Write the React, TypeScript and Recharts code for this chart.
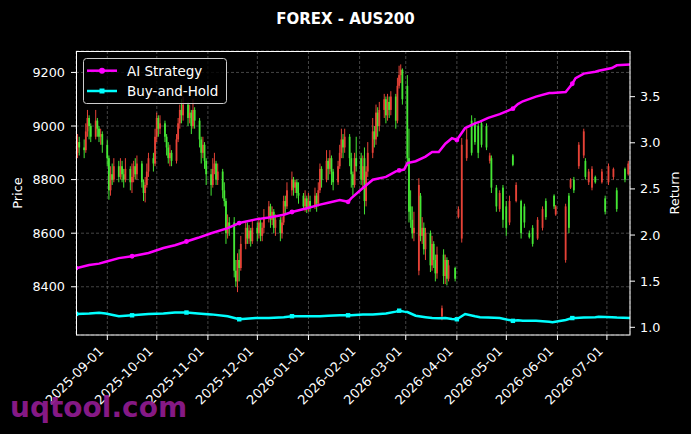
import React from 'react';
import { ComposedChart, Bar, Line, XAxis, YAxis, CartesianGrid } from 'recharts';

document.body.style.margin = '0';
document.body.style.background = '#000';

const FONT = '"DejaVu Sans", sans-serif';
const RED = '#ff4a3d';
const GREEN = '#4cff3a';
const MAGENTA = '#ff00ff';
const CYAN = '#00ffff';

// day 0 = 2025-08-13
const START_UTC = Date.UTC(2025, 7, 13);
const DAY_MS = 86400000;

const tickDates = [
  '2025-09-01', '2025-10-01', '2025-11-01', '2025-12-01', '2026-01-01', '2026-02-01',
  '2026-03-01', '2026-04-01', '2026-05-01', '2026-06-01', '2026-07-01',
];
const priceTicks = [8400, 8600, 8800, 9000, 9200];
const returnTicks = [1.0, 1.5, 2.0, 2.5, 3.0, 3.5];

// [day, open, high, low, close]
const candles: number[][] = [
  [0, 8870, 8960, 8860, 8900], [1, 8900, 8970, 8880, 8940], [2, 8940, 8960, 8890, 8920],
  [5, 8920, 8950, 8880, 8910], [6, 8910, 9010, 8900, 8980], [7, 8980, 9060, 8960, 9030],
  [8, 9030, 9040, 8950, 9000], [9, 9000, 9010, 8940, 8960], [12, 8960, 9060, 8950, 9020],
  [13, 9020, 9030, 8960, 8990], [14, 8990, 9000, 8940, 8960], [15, 8960, 8990, 8930, 8970],
  [16, 8970, 8980, 8900, 8930], [19, 8930, 8950, 8850, 8880], [20, 8880, 8890, 8725, 8760],
  [21, 8760, 8850, 8740, 8820], [22, 8820, 8860, 8780, 8800], [23, 8800, 8880, 8790, 8850],
  [26, 8850, 8870, 8790, 8810], [27, 8810, 8880, 8800, 8850], [28, 8850, 8870, 8790, 8820],
  [29, 8820, 8840, 8770, 8800], [30, 8800, 8880, 8790, 8840], [33, 8840, 8850, 8760, 8790],
  [34, 8790, 8860, 8750, 8810], [35, 8810, 8870, 8790, 8850], [36, 8850, 8880, 8800, 8820],
  [37, 8820, 8890, 8800, 8860], [40, 8860, 8870, 8770, 8790], [41, 8790, 8800, 8720, 8750],
  [42, 8750, 8810, 8715, 8780], [43, 8780, 8860, 8770, 8830], [44, 8830, 8900, 8810, 8880],
  [47, 8880, 8900, 8830, 8860], [48, 8860, 8990, 8850, 8960], [49, 8960, 9050, 8940, 9030],
  [50, 9030, 9040, 8960, 8990], [51, 8990, 9040, 8970, 9010], [54, 9010, 9020, 8940, 8960],
  [55, 8960, 8970, 8890, 8920], [56, 8920, 8940, 8860, 8880], [57, 8880, 8930, 8850, 8900],
  [58, 8900, 8910, 8850, 8870], [61, 8870, 8970, 8860, 8950], [62, 8950, 9030, 8940, 9010],
  [63, 9010, 9080, 8990, 9060], [64, 9060, 9100, 9010, 9040], [65, 9040, 9110, 9020, 9080],
  [68, 9080, 9090, 9000, 9030], [69, 9030, 9080, 9010, 9050], [70, 9050, 9060, 8970, 9000],
  [71, 9000, 9100, 8990, 9060], [72, 9060, 9070, 8990, 9020], [75, 9020, 9030, 8920, 8950],
  [76, 8950, 8960, 8860, 8900], [77, 8900, 8960, 8880, 8930], [78, 8930, 8940, 8840, 8870],
  [79, 8870, 8880, 8780, 8820], [82, 8820, 8840, 8740, 8780], [83, 8780, 8880, 8770, 8840],
  [84, 8840, 8900, 8820, 8860], [85, 8860, 8870, 8780, 8800], [86, 8800, 8860, 8780, 8830],
  [89, 8830, 8840, 8730, 8760], [90, 8760, 8790, 8700, 8720], [91, 8720, 8730, 8560, 8600],
  [92, 8600, 8670, 8580, 8640], [93, 8640, 8660, 8590, 8620], [96, 8640, 8660, 8435, 8460],
  [97, 8460, 8500, 8400, 8420], [98, 8420, 8525, 8380, 8500], [99, 8500, 8540, 8420, 8470],
  [100, 8470, 8590, 8460, 8560], [103, 8560, 8640, 8540, 8620], [104, 8620, 8640, 8560, 8580],
  [105, 8580, 8630, 8560, 8610], [106, 8610, 8620, 8550, 8570], [107, 8570, 8650, 8560, 8620],
  [110, 8620, 8640, 8570, 8600], [111, 8600, 8660, 8580, 8640], [112, 8640, 8650, 8570, 8590],
  [113, 8590, 8640, 8570, 8620], [114, 8620, 8690, 8600, 8660], [117, 8660, 8720, 8640, 8700],
  [118, 8700, 8710, 8620, 8650], [119, 8650, 8700, 8630, 8680], [120, 8680, 8690, 8600, 8620],
  [121, 8620, 8670, 8590, 8650], [124, 8650, 8660, 8570, 8600], [125, 8600, 8660, 8580, 8640],
  [126, 8640, 8740, 8630, 8720], [127, 8720, 8740, 8670, 8700], [128, 8700, 8790, 8690, 8760],
  [131, 8760, 8830, 8740, 8800], [132, 8800, 8810, 8740, 8770], [133, 8770, 8800, 8750, 8790],
  [134, 8790, 8800, 8730, 8750], [135, 8750, 8790, 8710, 8740], [138, 8740, 8750, 8690, 8700],
  [139, 8700, 8760, 8680, 8730], [140, 8730, 8740, 8675, 8690], [141, 8690, 8750, 8680, 8720],
  [142, 8720, 8740, 8680, 8700], [145, 8700, 8770, 8690, 8740], [146, 8740, 8750, 8680, 8710],
  [147, 8710, 8790, 8700, 8760], [148, 8760, 8860, 8750, 8840], [149, 8840, 8850, 8770, 8800],
  [152, 8800, 8910, 8790, 8870], [153, 8870, 8880, 8800, 8840], [154, 8840, 8910, 8820, 8880],
  [155, 8880, 8890, 8780, 8830], [156, 8830, 8840, 8760, 8790], [159, 8790, 8870, 8780, 8850],
  [160, 8850, 8930, 8840, 8900], [161, 8900, 8990, 8880, 8950], [162, 8950, 8970, 8880, 8920],
  [163, 8920, 8990, 8900, 8960], [166, 8960, 8970, 8850, 8880], [167, 8880, 8900, 8770, 8820],
  [168, 8820, 8830, 8740, 8780], [169, 8780, 8900, 8770, 8880], [170, 8880, 8960, 8830, 8850],
  [173, 8880, 8900, 8780, 8800], [174, 8800, 8890, 8770, 8850], [175, 8880, 8920, 8670, 8720],
  [176, 8720, 8850, 8700, 8830], [177, 8830, 8940, 8810, 8900], [180, 8900, 9030, 8880, 8980],
  [181, 8980, 9000, 8920, 8950], [182, 8950, 9080, 8930, 9050], [183, 9050, 9070, 8960, 9000],
  [184, 9000, 9090, 8980, 9060], [187, 9060, 9120, 9030, 9100], [188, 9100, 9110, 9010, 9040],
  [189, 9040, 9120, 9020, 9090], [190, 9090, 9110, 9030, 9060], [191, 9060, 9130, 9040, 9110],
  [194, 9110, 9120, 8990, 9020], [195, 9020, 9180, 9010, 9150], [196, 9150, 9225, 9140, 9190],
  [197, 9190, 9230, 9160, 9210], [198, 9210, 9215, 9080, 9100], [201, 9150, 9190, 8850, 8880],
  [202, 8880, 8990, 8640, 8680], [203, 8700, 8760, 8620, 8650], [204, 8650, 8700, 8580, 8600],
  [205, 8600, 8680, 8570, 8620], [208, 8460, 8805, 8443, 8780], [209, 8740, 8750, 8570, 8590],
  [210, 8590, 8660, 8560, 8620], [211, 8620, 8640, 8520, 8540], [212, 8540, 8620, 8500, 8600],
  [215, 8600, 8610, 8455, 8480], [216, 8480, 8590, 8460, 8560], [217, 8560, 8570, 8470, 8500],
  [218, 8500, 8520, 8420, 8450], [219, 8450, 8550, 8430, 8520], [222, 8290, 8330, 8275, 8320],
  [223, 8520, 8540, 8410, 8440], [224, 8440, 8520, 8410, 8500], [225, 8500, 8510, 8405, 8430],
  [226, 8430, 8500, 8420, 8480],
  // sparse part, April - July 2026
  [230, 8470, 8475, 8420, 8430], [232, 8660, 8700, 8655, 8690], [234, 8580, 8955, 8565, 8930],
  [237, 8880, 8990, 8870, 8950], [240, 9020, 9040, 8890, 8900], [242, 9010, 9030, 8930, 8940],
  [244, 9000, 9010, 8880, 8900], [246, 9010, 9020, 8920, 8930], [249, 9000, 9010, 8910, 8920],
  [251, 8870, 8900, 8860, 8890], [252, 8880, 8890, 8750, 8770], [255, 8770, 8780, 8680, 8700],
  [257, 8690, 8760, 8680, 8750], [259, 8770, 8780, 8620, 8650], [261, 8700, 8720, 8590, 8620],
  [263, 8640, 8740, 8630, 8720], [265, 8890, 8895, 8850, 8855], [267, 8720, 8790, 8715, 8780],
  [270, 8720, 8725, 8580, 8600], [272, 8700, 8710, 8620, 8640], [275, 8600, 8610, 8580, 8585],
  [277, 8620, 8630, 8550, 8560], [280, 8580, 8660, 8575, 8650], [283, 8620, 8700, 8610, 8690],
  [285, 8720, 8730, 8650, 8660], [290, 8740, 8745, 8690, 8700], [291, 8670, 8705, 8665, 8700],
  [297, 8500, 8710, 8490, 8700], [299, 8740, 8750, 8600, 8620], [300, 8770, 8805, 8765, 8800],
  [302, 8800, 8810, 8750, 8760], [305, 8850, 8940, 8840, 8930], [308, 8890, 8990, 8880, 8980],
  [309, 8870, 8880, 8800, 8810], [311, 8790, 8840, 8780, 8830], [313, 8770, 8850, 8760, 8840],
  [315, 8810, 8815, 8785, 8790], [319, 8790, 8840, 8785, 8830], [321, 8730, 8740, 8670, 8680],
  [323, 8790, 8860, 8780, 8850], [326, 8810, 8845, 8800, 8840], [328, 8760, 8770, 8680, 8690],
  [333, 8840, 8845, 8790, 8800], [335, 8820, 8870, 8815, 8860],
];

const lineDays = [
  0, 8, 14, 18, 26, 34, 44, 53, 60, 67, 74, 82, 92, 99, 109, 117, 126, 131, 140, 148, 153, 160,
  165, 167, 174, 180, 188, 194, 196, 199, 201, 206, 212, 216, 220, 224, 228, 231, 236, 242, 245,
  250, 257, 265, 268, 271, 279, 287, 289, 297, 301, 303, 308, 315, 317, 325, 328, 336,
];
const aiReturns = [
  1.64, 1.675, 1.69, 1.71, 1.75, 1.77, 1.805, 1.86, 1.89, 1.93, 1.97, 2.02, 2.075, 2.13, 2.17, 2.19,
  2.22, 2.25, 2.29, 2.33, 2.35, 2.38, 2.36, 2.4, 2.51, 2.6, 2.63, 2.69, 2.7, 2.71, 2.78, 2.8, 2.85,
  2.9, 2.9, 2.99, 3.05, 3.03, 3.16, 3.21, 3.23, 3.27, 3.31, 3.37, 3.42, 3.45, 3.5, 3.54, 3.54, 3.55,
  3.64, 3.7, 3.75, 3.77, 3.78, 3.81, 3.84, 3.85,
];
const bhReturns = [
  1.145, 1.15, 1.158, 1.15, 1.12, 1.13, 1.144, 1.15, 1.16, 1.16, 1.15, 1.14, 1.12, 1.087, 1.1, 1.1,
  1.11, 1.12, 1.12, 1.12, 1.125, 1.13, 1.13, 1.13, 1.14, 1.14, 1.15, 1.17, 1.18, 1.17, 1.165, 1.126,
  1.11, 1.1, 1.098, 1.1, 1.09, 1.087, 1.144, 1.12, 1.11, 1.105, 1.1, 1.07, 1.075, 1.07, 1.07, 1.06,
  1.054, 1.08, 1.1, 1.1, 1.105, 1.11, 1.115, 1.11, 1.105, 1.1,
];
const markerDays = [0, 34, 67, 99, 131, 165, 196, 231, 265, 301];

const toDay = (s: string) => {
  const [y, m, d] = s.split('-').map(Number);
  return Math.round((Date.UTC(y, m - 1, d) - START_UTC) / DAY_MS);
};
const tickDays = tickDates.map(toDay);
const dayLabel = (day: number) => new Date(START_UTC + day * DAY_MS).toISOString().slice(0, 10);

// merged table for the chart
const rowMap = new Map<number, any>();
const getRow = (day: number) => {
  if (!rowMap.has(day)) rowMap.set(day, { day });
  return rowMap.get(day);
};
candles.forEach(([day, o, h, l, c]) => {
  Object.assign(getRow(day), { o, h, l, c, range: [l, h] });
});
lineDays.forEach((day, i) => {
  Object.assign(getRow(day), { ai: aiReturns[i], bh: bhReturns[i] });
});
const rows = Array.from(rowMap.values()).sort((a, b) => a.day - b.day);

function CandleShape(props: any) {
  const { x, y, width, height, payload } = props;
  if (!payload || payload.o == null || y == null) return <g />;
  const top = Math.min(y, y + height);
  const span = Math.abs(height);
  const { o, h, l, c } = payload;
  const toY = (p: number) => (h === l ? top : top + ((h - p) / (h - l)) * span);
  const cx = x + width / 2;
  const color = c >= o ? RED : GREEN;
  const yo = toY(o);
  const yc = toY(c);
  return (
    <g opacity={0.9}>
      <line x1={cx} x2={cx} y1={top} y2={top + span} stroke={color} strokeWidth={1} />
      <rect x={cx - 0.9} width={1.8} y={Math.min(yo, yc)} height={Math.max(Math.abs(yc - yo), 0.8)} fill={color} />
    </g>
  );
}

const aiDot = (props: any) => {
  const { cx, cy, payload, index } = props;
  if (cx == null || !payload || !markerDays.includes(payload.day)) return <g key={`ai-${index}`} />;
  return <circle key={`ai-${index}`} cx={cx} cy={cy} r={2.4} fill={MAGENTA} />;
};
const bhDot = (props: any) => {
  const { cx, cy, payload, index } = props;
  if (cx == null || !payload || !markerDays.includes(payload.day)) return <g key={`bh-${index}`} />;
  return <rect key={`bh-${index}`} x={cx - 2.2} y={cy - 2.2} width={4.4} height={4.4} fill={CYAN} />;
};

const DateTick = (props: any) => {
  const { x, payload } = props;
  const tx = x - 3;
  const ty = 352;
  return (
    <text x={tx} y={ty} transform={`rotate(-45 ${tx} ${ty})`} textAnchor="end" fill="#fff" fontSize={13} fontFamily={FONT}>
      {dayLabel(payload.value)}
    </text>
  );
};

export default function App() {
  return (
    <div style={{ position: 'relative', width: 691, height: 434, background: '#000', fontFamily: FONT }}>
      <ComposedChart width={691} height={434} data={rows} margin={{ top: 51, right: 0, bottom: 0, left: 0 }}>
        <CartesianGrid yAxisId="price" stroke="#555" strokeDasharray="3 2" strokeWidth={0.8} />
        <XAxis
          dataKey="day"
          type="number"
          domain={[0, 336]}
          ticks={tickDays}
          allowDataOverflow
          height={99}
          axisLine={false}
          tickLine={{ stroke: '#fff' }}
          tickSize={5}
          tick={<DateTick />}
          interval={0}
        />
        <YAxis
          yAxisId="price"
          domain={[8220, 9280]}
          ticks={priceTicks}
          allowDataOverflow
          width={76}
          axisLine={false}
          tickLine={{ stroke: '#fff' }}
          tickSize={5}
          tickMargin={6}
          tick={{ fill: '#fff', fontSize: 12.8, fontFamily: FONT }}
        />
        <YAxis
          yAxisId="ret"
          orientation="right"
          domain={[0.9165, 3.995]}
          ticks={returnTicks}
          allowDataOverflow
          width={61}
          axisLine={false}
          tickLine={{ stroke: '#fff' }}
          tickSize={5}
          tickMargin={5}
          tickFormatter={(v: number) => v.toFixed(1)}
          tick={{ fill: '#fff', fontSize: 12.8, fontFamily: FONT }}
        />
        <Bar yAxisId="price" dataKey="range" barSize={2} shape={CandleShape} isAnimationActive={false} />
        <Line
          yAxisId="ret"
          dataKey="ai"
          stroke={MAGENTA}
          strokeWidth={2.5}
          dot={aiDot}
          activeDot={false}
          connectNulls
          isAnimationActive={false}
        />
        <Line
          yAxisId="ret"
          dataKey="bh"
          stroke={CYAN}
          strokeWidth={2.5}
          dot={bhDot}
          activeDot={false}
          connectNulls
          isAnimationActive={false}
        />
      </ComposedChart>
      <svg width={691} height={434} style={{ position: 'absolute', left: 0, top: 0, pointerEvents: 'none' }}>
        <rect x={76.5} y={51.5} width={553.5} height={283.5} fill="none" stroke="#fff" strokeWidth={1} />
        <text x={345.5} y={23.5} textAnchor="middle" fill="#fff" fontSize={15} fontWeight="bold" fontFamily={FONT}>
          FOREX - AUS200
        </text>
        <text x={21.7} y={193} transform="rotate(-90 21.7 193)" textAnchor="middle" fill="#fff" fontSize={13} fontFamily={FONT}>
          Price
        </text>
        <text x={679} y={193} transform="rotate(-90 679 193)" textAnchor="middle" fill="#fff" fontSize={13} fontFamily={FONT}>
          Return
        </text>
        <g>
          <rect x={83.5} y={58.5} width={143} height={45} rx={3} fill="#000" fillOpacity={0.8} stroke="#ccc" strokeWidth={1} />
          <line x1={87} x2={117} y1={70.7} y2={70.7} stroke={MAGENTA} strokeWidth={2.5} />
          <circle cx={102} cy={70.7} r={3} fill={MAGENTA} />
          <text x={127} y={75.5} fill="#fff" fontSize={13.5} fontFamily={FONT}>AI Strategy</text>
          <line x1={87} x2={117} y1={91} y2={91} stroke={CYAN} strokeWidth={2.5} />
          <rect x={99.5} y={88.5} width={5} height={5} fill={CYAN} />
          <text x={127} y={95.8} fill="#fff" fontSize={13.5} fontFamily={FONT}>Buy-and-Hold</text>
        </g>
        <text x={10} y={417} fill="#8e1b8e" fillOpacity={0.95} fontSize={28} fontWeight="bold" fontFamily={FONT}>
          uqtool.com
        </text>
      </svg>
    </div>
  );
}
